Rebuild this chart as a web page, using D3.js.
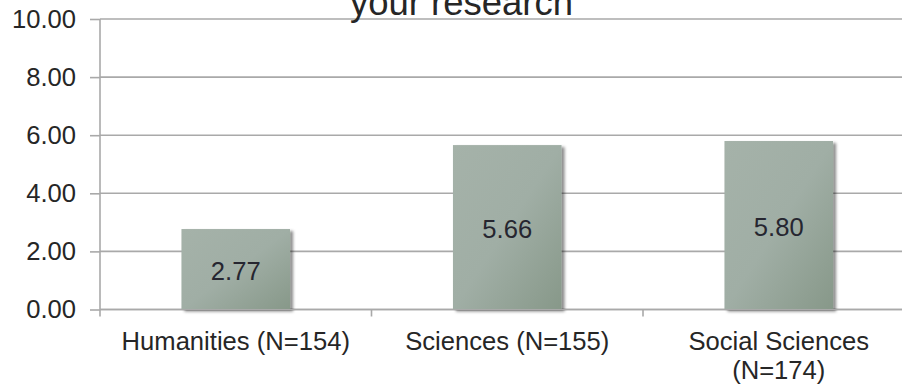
<!DOCTYPE html>
<html>
<head>
<meta charset="utf-8">
<script src="https://cdn.jsdelivr.net/npm/d3@7"></script>
<style>
  html, body { margin: 0; padding: 0; background: #fff; }
  svg { display: block; font-family: "Liberation Sans", Arial, sans-serif; }
</style>
</head>
<body>
<svg id="chart" width="902" height="388"></svg>
<script>
const categories = ["Humanities (N=154)", "Sciences (N=155)", "Social Sciences (N=174)"];
const values = [2.77, 5.66, 5.80];
const yTicks = [0, 2, 4, 6, 8, 10];
const titleText = "your research";

const W = 902, H = 388;
const svg = d3.select("#chart");

const x = d3.scaleBand().domain(categories).range([100, 914.5]).paddingInner(0.6).paddingOuter(0.3);
const y = d3.scaleLinear().domain([0, 10]).range([309.5, 19]);

const defs = svg.append("defs");
const grad = defs.append("linearGradient").attr("id", "barGrad")
  .attr("x1", 0).attr("y1", 0).attr("x2", 1).attr("y2", 1);
grad.append("stop").attr("offset", 0).attr("stop-color", "#a5b2a9");
grad.append("stop").attr("offset", 0.5).attr("stop-color", "#a0aea5");
grad.append("stop").attr("offset", 1).attr("stop-color", "#879889");
const filt = defs.append("filter").attr("id", "shadow")
  .attr("x", "-10%").attr("y", "-10%").attr("width", "130%").attr("height", "130%");
filt.append("feDropShadow").attr("dx", 3).attr("dy", 2).attr("stdDeviation", 1.6)
  .attr("flood-color", "#000").attr("flood-opacity", 0.45);

// gridlines
const grid = svg.append("g").attr("class", "grid");
grid.selectAll("line").data(yTicks).join("line")
  .attr("x1", 100).attr("x2", W)
  .attr("y1", d => y(d)).attr("y2", d => y(d))
  .attr("stroke", "#a9a9a9").attr("stroke-width", 1.6);

// y axis
const yAxis = svg.append("g").attr("transform", "translate(100,0)")
  .call(d3.axisLeft(y).tickValues(yTicks).tickFormat(d3.format(".2f")).tickSize(10).tickPadding(14));
yAxis.select(".domain").attr("stroke", "#a9a9a9").attr("stroke-width", 1.6).attr("d", `M0,${y(10)}V${y(0)}`);
yAxis.selectAll(".tick line").attr("stroke", "#a9a9a9").attr("stroke-width", 1.6);
yAxis.selectAll(".tick text").attr("font-size", 25.6).attr("fill", "#262626")
  .attr("font-family", "Liberation Sans, Arial, sans-serif");

// x axis ticks between categories
const boundaries = [100, 100 + x.step(), 100 + 2 * x.step()];
const xaxis = svg.append("g");
xaxis.append("line").attr("x1", 100).attr("x2", W).attr("y1", y(0)).attr("y2", y(0))
  .attr("stroke", "#a9a9a9").attr("stroke-width", 1.6);
xaxis.selectAll("line.tk").data(boundaries).join("line").attr("class", "tk")
  .attr("x1", d => d).attr("x2", d => d).attr("y1", y(0)).attr("y2", y(0) + 7)
  .attr("stroke", "#a9a9a9").attr("stroke-width", 1.6);

// bars
svg.append("g").selectAll("rect").data(values).join("rect")
  .attr("x", (d, i) => x(categories[i]))
  .attr("width", x.bandwidth())
  .attr("y", d => y(d))
  .attr("height", d => y(0) - y(d))
  .attr("fill", "url(#barGrad)")
  .attr("filter", "url(#shadow)");

// redraw axis line over bars bottom
svg.append("line").attr("x1", 100).attr("x2", W).attr("y1", y(0)).attr("y2", y(0))
  .attr("stroke", "#a9a9a9").attr("stroke-width", 1.2);

// value labels
svg.append("g").selectAll("text").data(values).join("text")
  .attr("x", (d, i) => x(categories[i]) + x.bandwidth() / 2)
  .attr("y", d => (y(d) + y(0)) / 2 + 2)
  .attr("text-anchor", "middle").attr("dominant-baseline", "central")
  .attr("font-size", 25.6).attr("fill", "#262630")
  .text(d => d3.format(".2f")(d));

// category labels with wrapping
const catG = svg.append("g");
categories.forEach((c, i) => {
  const cx = x(c) + x.bandwidth() / 2;
  const t = catG.append("text").attr("x", cx).attr("y", 350)
    .attr("text-anchor", "middle").attr("font-size", 25.6).attr("fill", "#262626");
  const words = c.split(" ");
  let line = [];
  let tspan = t.append("tspan").attr("x", cx).attr("dy", 0);
  let lineNo = 0;
  const maxW = x.step() - 12;
  words.forEach(w => {
    line.push(w);
    tspan.text(line.join(" "));
    if (tspan.node().getComputedTextLength() > maxW && line.length > 1) {
      line.pop();
      tspan.text(line.join(" "));
      line = [w];
      lineNo++;
      tspan = t.append("tspan").attr("x", cx).attr("dy", 29).text(w);
    }
  });
});

// title (partially cut at top)
svg.append("text").attr("x", 461.5).attr("y", 15)
  .attr("text-anchor", "middle").attr("font-size", 36.5).attr("fill", "#262626")
  .text(titleText);
</script>
</body>
</html>
